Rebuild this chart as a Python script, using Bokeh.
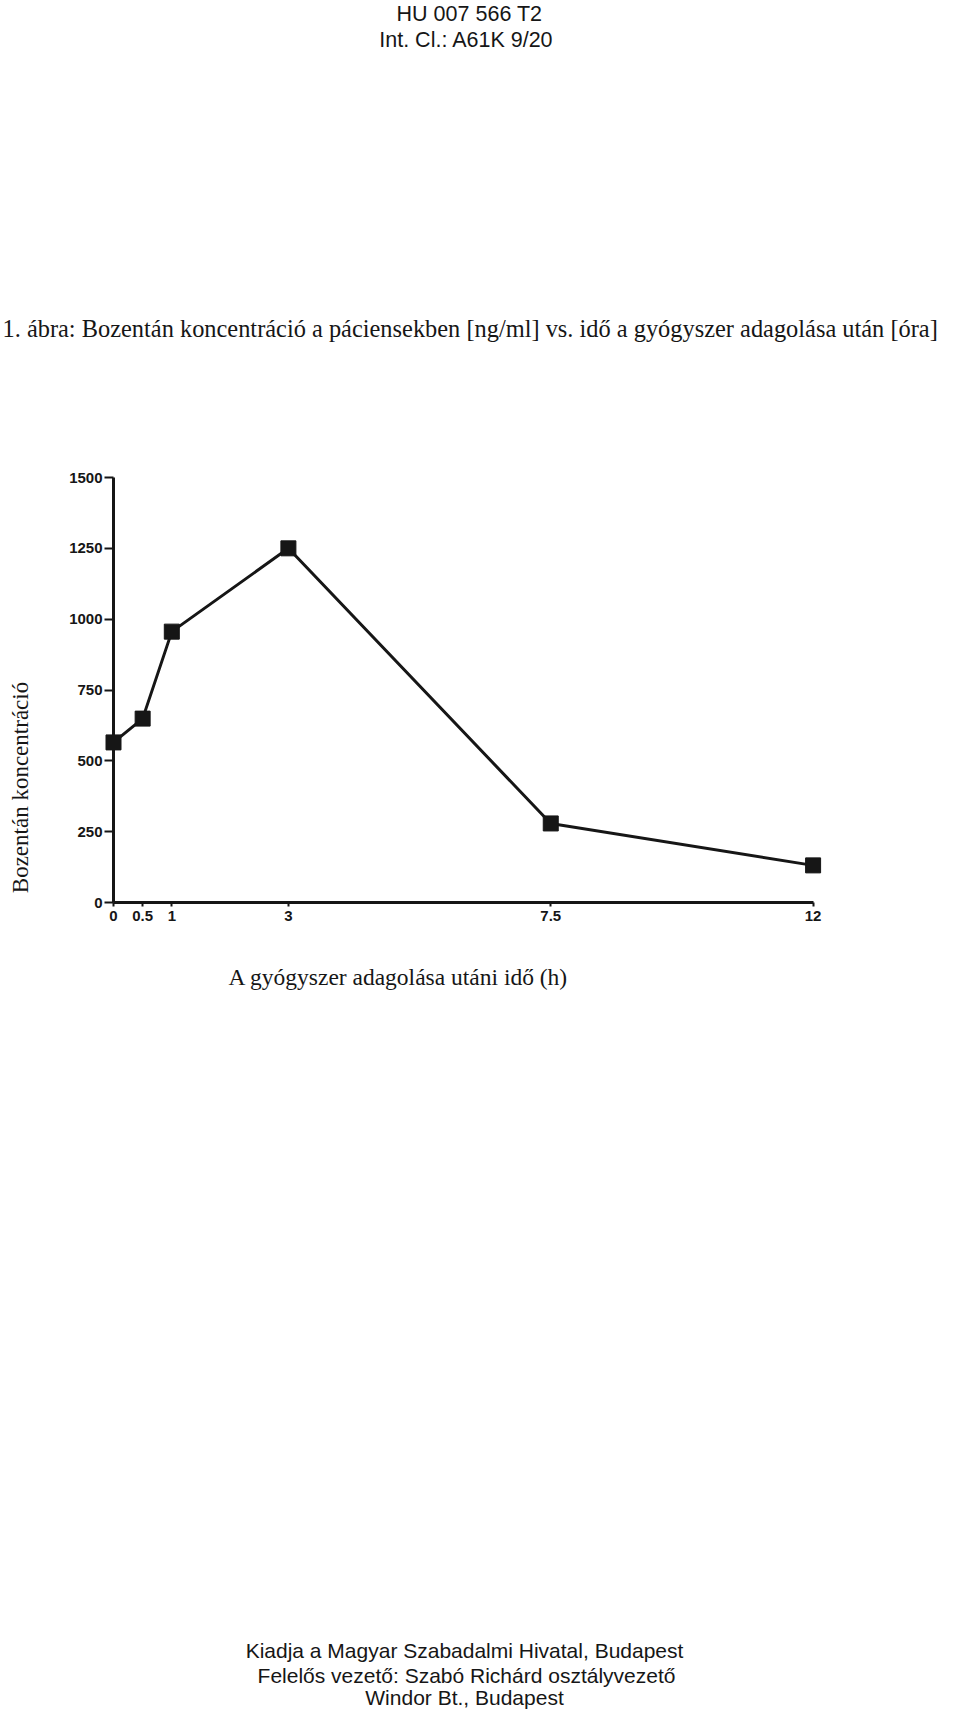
import math
from bokeh.plotting import figure
from bokeh.models import Range1d, FixedTicker, Label
from bokeh.embed import file_html
from bokeh.resources import INLINE

# ---- data ----
time_h = [0, 0.5, 1, 3, 7.5, 12]
conc = [565, 649, 956, 1250, 279, 131]
x_ticks = [0, 0.5, 1, 3, 7.5, 12]
x_tick_labels = ["0", "0.5", "1", "3", "7.5", "12"]
y_ticks = [0, 250, 500, 750, 1000, 1250, 1500]

header_lines = ["HU 007 566 T2", "Int. Cl.: A61K 9/20"]
fig_title = "1. ábra: Bozentán koncentráció a páciensekben [ng/ml] vs. idő a gyógyszer adagolása után [óra]"
x_label = "A gyógyszer adagolása utáni idő (h)"
y_label = "Bozentán koncentráció"
footer_lines = ["Kiadja a Magyar Szabadalmi Hivatal, Budapest",
                "Felelős vezető: Szabó Richárd osztályvezető",
                "Windor Bt., Budapest"]

# ---- layout: the frame covers the whole canvas ----
W, H = 944, 1712
OFF = 0                       # canvas origin in picture pixels
PX0, PXU = 113, 58.3          # picture x of t=0, px per hour
PY0, PYU = 902, 425 / 1500    # picture y of conc=0, px per ng/ml
x_start = (OFF - PX0) / PXU
x_end = (OFF + W - PX0) / PXU
y_start = (PY0 - (OFF + H)) / PYU
y_end = (PY0 - OFF) / PYU

INK = "#161616"

p = figure(width=W, height=H, output_backend="svg", toolbar_location=None,
           x_range=Range1d(x_start, x_end), y_range=Range1d(y_start, y_end),
           min_border=0)
p.outline_line_color = None
p.grid.visible = False
p.background_fill_color = "white"
p.border_fill_color = "white"

# axes drawn inside the frame at the data origin
xa = p.xaxis[0]
xa.fixed_location = 0
xa.ticker = FixedTicker(ticks=x_ticks)
xa.major_label_overrides = {t: l for t, l in zip(x_ticks, x_tick_labels)}
xa.bounds = (0, 12)
xa.axis_line_width = 3
xa.axis_line_color = INK
xa.major_tick_line_color = INK
xa.major_tick_line_width = 2
xa.major_tick_in = 0
xa.major_tick_out = 4
xa.minor_tick_line_color = None
xa.major_label_standoff = 4
xa.major_label_text_font = "Liberation Sans"
xa.major_label_text_font_style = "bold"
xa.major_label_text_font_size = "15px"
xa.major_label_text_color = INK

ya = p.yaxis[0]
ya.fixed_location = 0
ya.ticker = FixedTicker(ticks=y_ticks)
ya.bounds = (0, 1500)
ya.axis_line_width = 3
ya.axis_line_color = INK
ya.major_tick_line_color = INK
ya.major_tick_line_width = 2
ya.major_tick_in = 0
ya.major_tick_out = 9
ya.minor_tick_line_color = None
ya.major_label_standoff = 2
ya.major_label_text_font = "Liberation Sans"
ya.major_label_text_font_style = "bold"
ya.major_label_text_font_size = "15px"
ya.major_label_text_color = INK

# series
p.line(time_h, conc, line_width=3, line_color=INK)
p.scatter(time_h, conc, marker="square", size=15, fill_color=INK, line_color=INK)

# page texts (screen units: frame == canvas, origin bottom-left)
def sx(px):
    return px - OFF

def sy(py):
    return (OFF + H) - py

def lab(text, px, py, font, size, align="center", angle=0.0):
    p.add_layout(Label(x=sx(px), y=sy(py), x_units="screen", y_units="screen",
                       text=text, text_align=align, text_baseline="middle",
                       text_font=font, text_font_size=size, text_color=INK,
                       angle=angle))

lab(header_lines[0], 469, 13, "Liberation Sans", "21.5px")
lab(header_lines[1], 466, 39, "Liberation Sans", "21.5px")
lab(fig_title, 2, 328, "Liberation Serif", "24.4px", align="left")
lab(x_label, 398, 976, "Liberation Serif", "23.5px")
lab(y_label, 20, 787, "Liberation Serif", "23px", angle=math.pi / 2)
lab(footer_lines[0], 464, 1650, "Liberation Sans", "21px")
lab(footer_lines[1], 466, 1675, "Liberation Sans", "21px")
lab(footer_lines[2], 464, 1697, "Liberation Sans", "21px")

open("out.html", "w").write(file_html(p, INLINE))
